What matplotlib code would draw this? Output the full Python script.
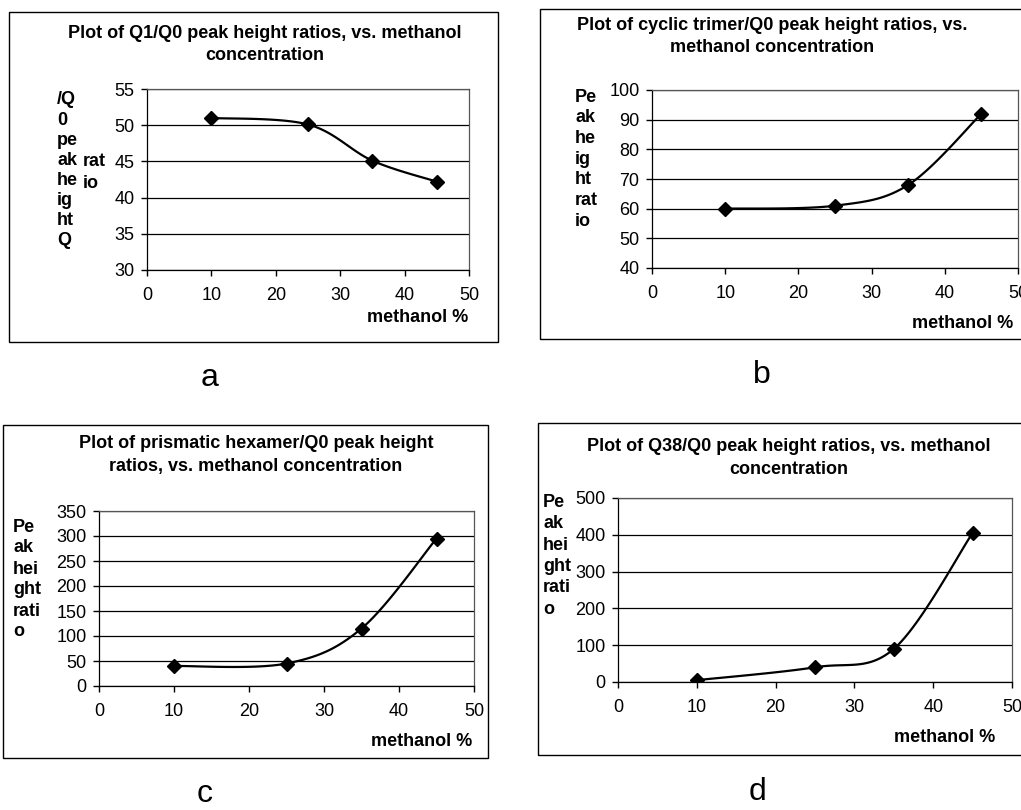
import numpy as np
import matplotlib
matplotlib.use('Agg')
import matplotlib.pyplot as plt
from matplotlib.patches import Rectangle

plt.rcParams['font.family'] = ['Liberation Sans', 'DejaVu Sans']

# data
methanol = [10, 25, 35, 45]
q1_ratio = [51, 50.1, 45.1, 42.2]
trimer_ratio = [60, 61, 68, 92]
hexamer_ratio = [40, 45, 115, 295]
q38_ratio = [5, 40, 90, 405]

W, H = 1021, 810


def smooth(xs, ys, n=40):
    # Excel-style smoothed line (Catmull-Rom as cubic Bezier)
    pts = np.column_stack([xs, ys]).astype(float)
    out = []
    for i in range(len(pts) - 1):
        p0 = pts[i - 1] if i > 0 else pts[i]
        p1, p2 = pts[i], pts[i + 1]
        p3 = pts[i + 2] if i + 2 < len(pts) else pts[i + 1]
        c1 = p1 + (p2 - p0) / 6
        c2 = p2 - (p3 - p1) / 6
        t = np.linspace(0, 1, n)[:, None]
        seg = ((1 - t) ** 3) * p1 + 3 * ((1 - t) ** 2) * t * c1 + 3 * (1 - t) * t ** 2 * c2 + t ** 3 * p2
        out.append(seg)
    seg = np.vstack(out)
    return seg[:, 0], seg[:, 1]


def fx(x):
    return x / W


def fy(y):
    return 1 - y / H


fig = plt.figure(figsize=(10.21, 8.10), dpi=100)

panels = [
    dict(ax=(147, 89, 469, 270), frame=(9, 12, 498, 342),
         title=['Plot of Q1/Q0 peak height ratios, vs. methanol', 'concentration'],
         tpos=(265, 33), ys=q1_ratio, ylim=(30, 55), ystep=5,
         mlab=(468, 318), letter=('a', 210, 378)),
    dict(ax=(652, 90, 1018, 268), frame=(540, 9, 1030, 339),
         title=['Plot of cyclic trimer/Q0 peak height ratios, vs.', 'methanol concentration'],
         tpos=(772, 25), ys=trimer_ratio, ylim=(40, 100), ystep=10,
         mlab=(1013, 323), letter=('b', 762, 375)),
    dict(ax=(99, 511, 474, 686), frame=(3, 425, 488, 758),
         title=['Plot of prismatic hexamer/Q0 peak height', 'ratios, vs. methanol concentration'],
         tpos=(256, 443), ys=hexamer_ratio, ylim=(0, 350), ystep=50,
         mlab=(472, 742), letter=('c', 205, 794)),
    dict(ax=(618, 498, 1012, 682), frame=(538, 423, 1030, 755),
         title=['Plot of Q38/Q0 peak height ratios, vs. methanol', 'concentration'],
         tpos=(789, 447), ys=q38_ratio, ylim=(0, 500), ystep=100,
         mlab=(995, 737), letter=('d', 758, 792)),
]

ylabels = [
    [(57, 100, ['/Q', '0', 'pe', 'ak', 'he', 'ig', 'ht', 'Q'], 20.1), (83, 162, ['rat', 'io'], 21)],
    [(575, 97, ['Pe', 'ak', 'he', 'ig', 'ht', 'rat', 'io'], 20.7)],
    [(13, 527, ['Pe', 'ak', 'hei', 'ght', 'rati', 'o'], 21)],
    [(543, 502, ['Pe', 'ak', 'hei', 'ght', 'rati', 'o'], 21.5)],
]

for p, ylab in zip(panels, ylabels):
    x0, y0, x1, y1 = p['frame']
    fig.patches.append(Rectangle((fx(x0), fy(y1)), fx(x1 - x0), (y1 - y0) / H,
                                 transform=fig.transFigure, fill=False,
                                 edgecolor='black', linewidth=1.0))

    l, t, r, b = p['ax']
    ax = fig.add_axes([fx(l), fy(b), fx(r - l), (b - t) / H])
    sx, sy = smooth(methanol, p['ys'])
    ax.plot(sx, sy, color='black', linewidth=1.6)
    ax.plot(methanol, p['ys'], linestyle='none', marker='D', markersize=7.5,
            color='black')
    ax.set_xlim(0, 50)
    ax.set_ylim(*p['ylim'])
    ax.set_xticks(range(0, 51, 10))
    ax.set_yticks(np.arange(p['ylim'][0], p['ylim'][1] + 1, p['ystep']))
    ax.grid(True, axis='y', color='black', linewidth=0.9)
    ax.set_axisbelow(True)
    ax.tick_params(axis='both', direction='out', length=4, width=1,
                   labelsize=13)
    ax.tick_params(axis='x', pad=8)
    ax.tick_params(axis='y', pad=5)
    for s in ax.spines.values():
        s.set_linewidth(0.9)
    ax.spines['top'].set_color('#555555')
    ax.spines['right'].set_color('#555555')

    tx, ty = p['tpos']
    for i, line in enumerate(p['title']):
        fig.text(fx(tx), fy(ty + 23 * i), line, ha='center', va='center',
                 fontsize=13, fontweight='bold')

    mx, my = p['mlab']
    fig.text(fx(mx), fy(my), 'methanol %', ha='right', va='center',
             fontsize=13, fontweight='bold')

    letter, lx, ly = p['letter']
    fig.text(fx(lx), fy(ly), letter, ha='center', va='center', fontsize=23)

    for cx, cy, lines, step in ylab:
        for i, line in enumerate(lines):
            fig.text(fx(cx), fy(cy + step * i), line, ha='left', va='center',
                     fontsize=13, fontweight='bold')

fig.savefig('out.png', dpi=100)
